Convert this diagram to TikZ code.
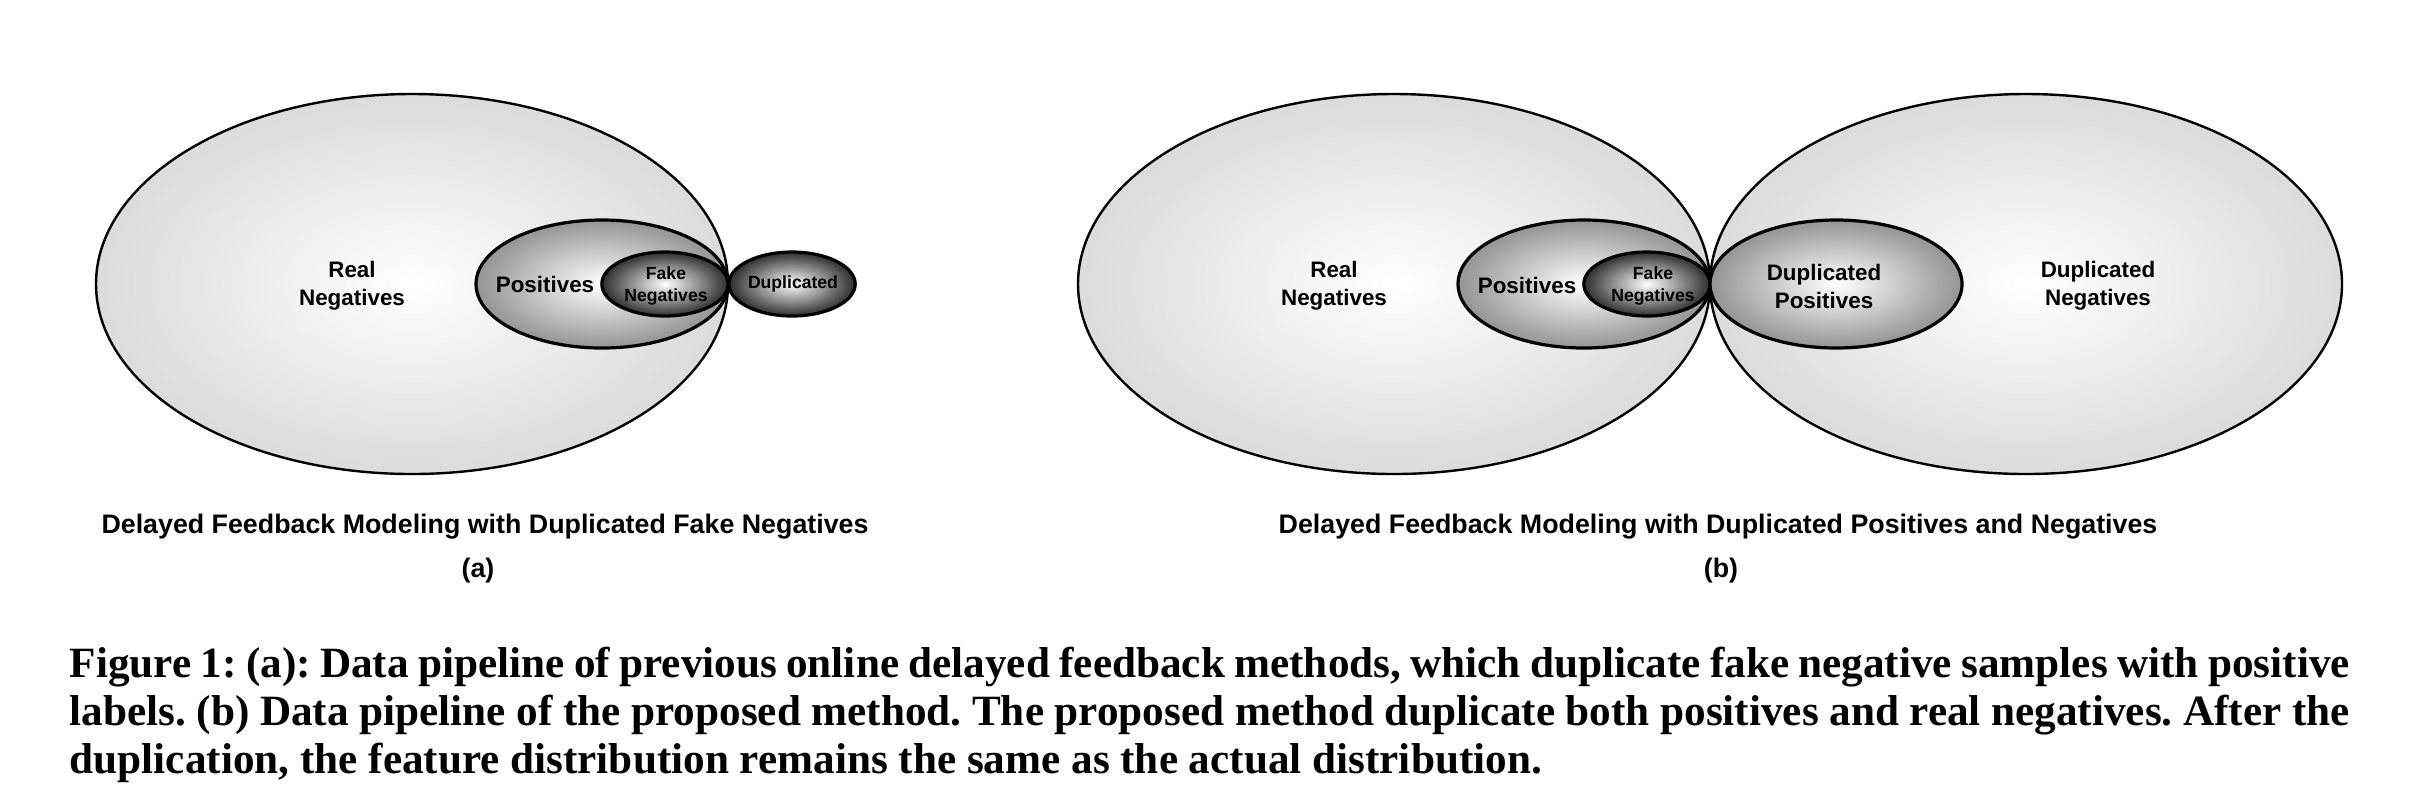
\documentclass[tikz,border=0pt]{standalone}
\usepackage{fontspec}
\setmainfont{Liberation Sans}
\newfontfamily\capfont{Liberation Serif}
\usetikzlibrary{shapes.geometric}
\frenchspacing
\begin{document}
\begin{tikzpicture}[x=0.25pt,y=-0.25pt,
 region/.style={ellipse, draw=black, inner sep=0pt, outer sep=0pt, shading=radial, inner color=white},
 bigset/.style={region, line width=0.6pt, outer color=black!14, minimum width=158pt, minimum height=95pt},
 midset/.style={region, line width=0.8pt, outer color=black!42, minimum width=63pt, minimum height=32pt},
 smallset/.style={region, line width=0.8pt, outer color=black!82, minimum width=31.6pt, minimum height=16pt},
 lab/.style={font=\bfseries\fontsize{5.6}{7}\selectfont, align=center, inner sep=0pt},
 slab/.style={font=\bfseries\fontsize{4.4}{5.4}\selectfont, align=center, inner sep=0pt},
 sub/.style={font=\bfseries\fontsize{6.7}{8}\selectfont, inner sep=0pt},
 captext/.style={font=\capfont\bfseries\fontsize{10.8}{12}\selectfont, inner sep=0pt, anchor=base west}]
\useasboundingbox (0,0) rectangle (2416,806);
% panel (a)
\node[bigset] (aneg) at (412,284) {};
\node[midset] (apos) at (602,284) {};
\node[smallset] (afake) at (665,284) {};
\node[smallset] (adup) at (792,284) {};
\node[lab] (lrealA) at (352,286) {Real\\Negatives};
\node[lab] (lposA) at (545,284) {Positives};
\node[slab] (lfakeA) at (666,286) {Fake\\Negatives};
\node[slab] (ldupA) at (793,284) {Duplicated};
\node[sub] (titleA) at (485,527) {Delayed Feedback Modeling with Duplicated Fake Negatives};
\node[sub] (tagA) at (478,571) {(a)};
% panel (b)
\node[bigset] (bneg) at (1394,284) {};
\node[bigset] (bdupneg) at (2026,284) {};
\node[midset] (bpos) at (1584,284) {};
\node[smallset] (bfake) at (1647,284) {};
\node[midset] (bduppos) at (1836,284) {};
\node[lab] (lrealB) at (1334,286) {Real\\Negatives};
\node[lab] (lposB) at (1527,285) {Positives};
\node[slab] (lfakeB) at (1653,286) {Fake\\Negatives};
\node[lab] (ldupposB) at (1824,286) {Duplicated\\Positives};
\node[lab] (ldupnegB) at (2098,286) {Duplicated\\Negatives};
\node[sub] (titleB) at (1718,527) {Delayed Feedback Modeling with Duplicated Positives and Negatives};
\node[sub] (tagB) at (1721,571) {(b)};
% caption
\node[captext] (cap1) at (69,677) {\makebox[570pt][s]{Figure 1: (a): Data pipeline of previous online delayed feedback methods, which duplicate fake negative samples with positive}};
\node[captext] (cap2) at (69,725) {\makebox[570pt][s]{labels. (b) Data pipeline of the proposed method. The proposed method duplicate both positives and real negatives. After the}};
\node[captext] (cap3) at (69,773) {duplication, the feature distribution remains the same as the actual distribution.};
\end{tikzpicture}
\end{document}
